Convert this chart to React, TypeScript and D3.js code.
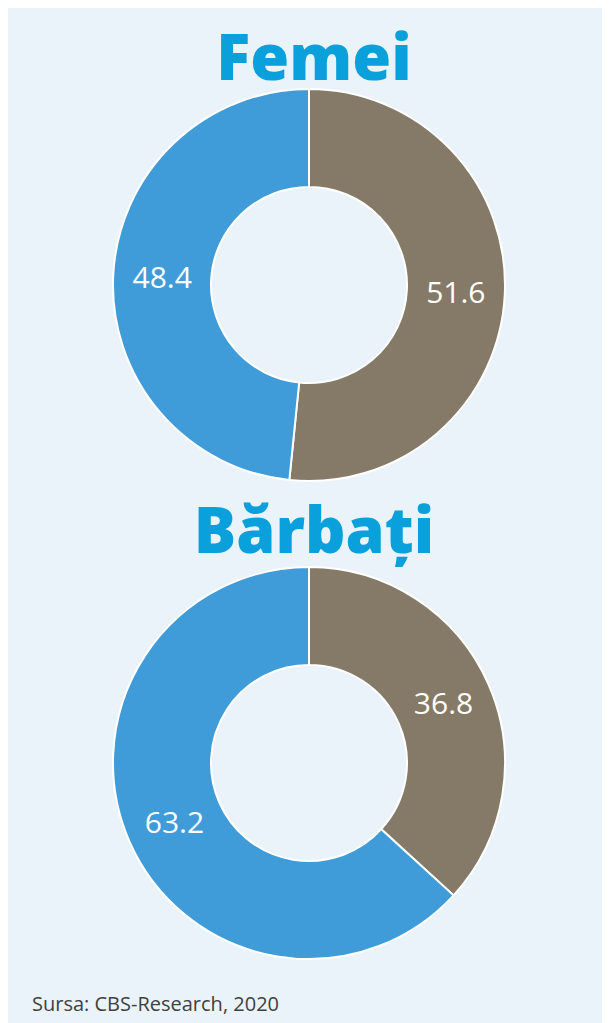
import React from "react";
import * as d3 from "d3";

const categories = ["Brown", "Blue"];
const femeiValues = [51.6, 48.4];
const barbatiValues = [36.8, 63.2];
const titles = ["Femei", "Bărbați"];
const colors = ["#857A68", "#409CD9"];
const source = "Sursa: CBS-Research, 2020";

const W = 602;
const H = 1015;

function Donut({ values, cx, cy, title, titleY }: { values: number[]; cx: number; cy: number; title: string; titleY: number }) {
  const outer = 196;
  const inner = 98;
  const pie = d3.pie<number>().sort(null).value((d) => d)(values);
  const arc = d3.arc<d3.PieArcDatum<number>>().innerRadius(inner).outerRadius(outer);
  return (
    <g>
      <text x={cx + 5} y={titleY} textAnchor="middle" fill="#0AA0DC" fontFamily="'Open Sans', sans-serif" fontWeight={800} fontSize={63}>
        {title}
      </text>
      <g transform={`translate(${cx},${cy})`}>
        {pie.map((p, i) => (
          <path key={categories[i]} d={arc(p) || ""} fill={colors[i]} stroke="#ffffff" strokeWidth={2} />
        ))}
        {pie.map((p, i) => {
          const [x, y] = arc.centroid(p);
          return (
            <text key={"l" + i} x={x} y={y} dy="0.35em" textAnchor="middle" fill="#ffffff" fontFamily="'Open Sans', sans-serif" fontSize={30}>
              {values[i].toFixed(1)}
            </text>
          );
        })}
      </g>
    </g>
  );
}

export default function App() {
  return (
    <svg width={W} height={H} style={{ display: "block" }}>
      <rect x={0} y={0} width={W} height={H} fill="#EAF3FA" />
      <Donut values={femeiValues} cx={301} cy={277} title={titles[0]} titleY={72} />
      <Donut values={barbatiValues} cx={301} cy={755} title={titles[1]} titleY={545} />
      <text x={24} y={1003} fill="#404040" fontFamily="'Open Sans', sans-serif" fontSize={20}>
        {source}
      </text>
    </svg>
  );
}
